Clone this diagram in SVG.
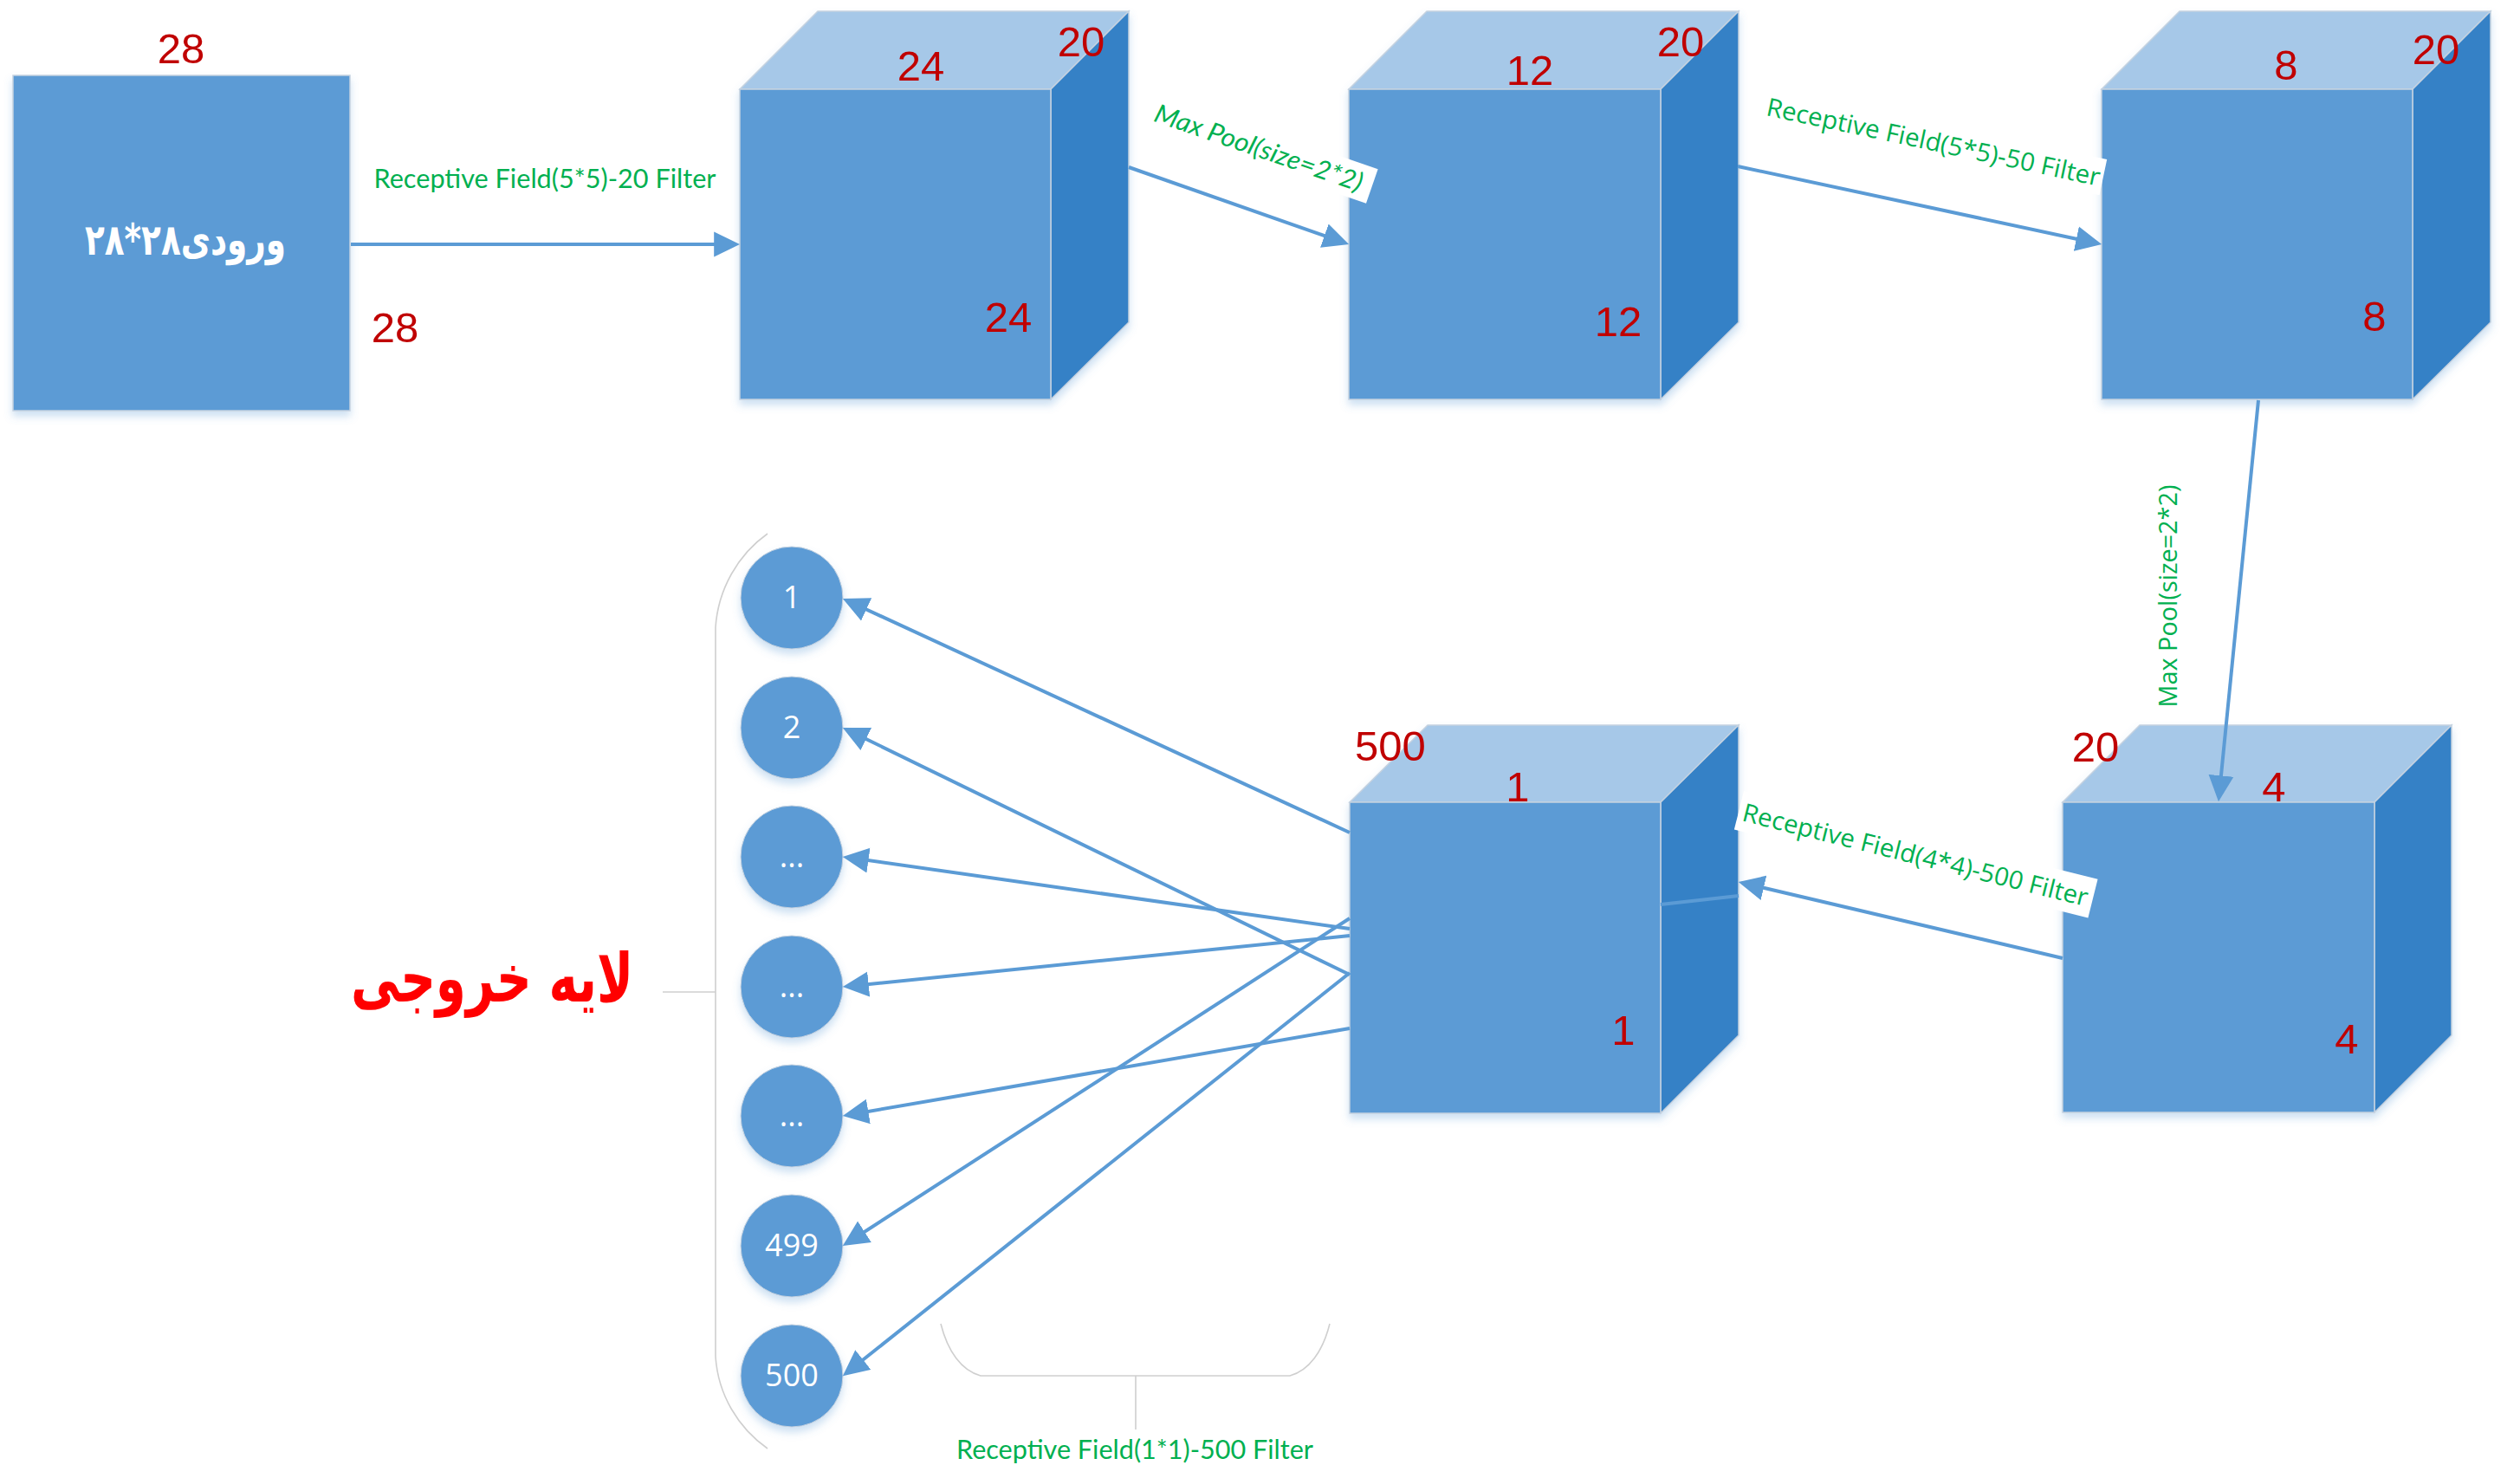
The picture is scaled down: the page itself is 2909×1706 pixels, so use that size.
<svg xmlns="http://www.w3.org/2000/svg" width="2909" height="1706" viewBox="0 0 2909 1706">
<defs>
<style>
.front{fill:#5B9BD5;stroke:#C5D2E0;stroke-width:1.5}
.top{fill:#A6C8E8;stroke:#C5D2E0;stroke-width:1.5}
.side{fill:#3581C6;stroke:#C5D2E0;stroke-width:1.5}
.dim{font-family:"Liberation Sans",Arial,sans-serif;font-size:49px;fill:#C00000;text-anchor:middle}
.edge{fill:none;stroke:#5B9BD5;stroke-width:4;marker-end:url(#ah)}
.plain{fill:none;stroke:#5B9BD5;stroke-width:4}
.lbl{font-family:"Open Sans","Noto Sans",sans-serif;font-size:29px;fill:#00B050;text-anchor:middle}
.lblc{font-family:Lato,"Liberation Sans",sans-serif;font-size:30px;fill:#00B050;text-anchor:middle}
.circ{fill:#5B9BD5;stroke:#C5D2E0;stroke-width:1}
.ctext{font-family:"Open Sans","Noto Sans",sans-serif;font-size:36px;fill:#FFFFFF;text-anchor:middle}
.brace{fill:none;stroke:#CFCFCF;stroke-width:1.6}
.bg{fill:#FFFFFF}
</style>
<marker id="ah" markerUnits="userSpaceOnUse" markerWidth="30" markerHeight="30" viewBox="0 0 29 28" refX="23" refY="14" orient="auto">
<path d="M0,0 L29,14 L0,28 Z" fill="#5B9BD5"/>
</marker>
<filter id="sh" x="-10%" y="-10%" width="125%" height="125%">
<feDropShadow dx="0" dy="6" stdDeviation="5" flood-color="#5B9BD5" flood-opacity="0.3"/>
</filter>
</defs>
<rect width="2909" height="1706" fill="#FFFFFF"/>

<g id="input">
<rect x="15" y="87" width="389" height="387" class="front" filter="url(#sh)"/>
<text x="214" y="294" font-family="'DejaVu Sans',sans-serif" font-weight="bold" font-size="50" fill="#FFFFFF" text-anchor="middle" textLength="232" lengthAdjust="spacingAndGlyphs">ورودی۲۸*۲۸</text>
<text class="dim" x="209" y="73">28</text>
<text class="dim" x="456" y="395">28</text>
</g>

<g id="cube1">
<g filter="url(#sh)">
<polygon class="top" points="854,103 944,13 1303,13 1213,103"/>
<polygon class="side" points="1213,103 1303,13 1303,372 1213,461"/>
<rect class="front" x="854" y="103" width="359" height="358"/>
</g>
<text class="dim" x="1063" y="93">24</text>
<text class="dim" x="1248" y="65">20</text>
<text class="dim" x="1164" y="383">24</text>
</g>

<g id="cube2">
<g filter="url(#sh)">
<polygon class="top" points="1557,103 1647,13 2007,13 1917,103"/>
<polygon class="side" points="1917,103 2007,13 2007,372 1917,461"/>
<rect class="front" x="1557" y="103" width="360" height="358"/>
</g>
<text class="dim" x="1766" y="98">12</text>
<text class="dim" x="1940" y="65">20</text>
<text class="dim" x="1868" y="388">12</text>
</g>

<g id="cube3">
<g filter="url(#sh)">
<polygon class="top" points="2426,103 2516,13 2875,13 2785,103"/>
<polygon class="side" points="2785,103 2875,13 2875,372 2785,461"/>
<rect class="front" x="2426" y="103" width="359" height="358"/>
</g>
<text class="dim" x="2639" y="92">8</text>
<text class="dim" x="2812" y="74">20</text>
<text class="dim" x="2741" y="382">8</text>
</g>

<g id="cube4">
<g filter="url(#sh)">
<polygon class="top" points="2381,926 2470,837 2830,837 2741,926"/>
<polygon class="side" points="2741,926 2830,837 2830,1195 2741,1284"/>
<rect class="front" x="2381" y="926" width="360" height="358"/>
</g>
<text class="dim" x="2419" y="879">20</text>
<text class="dim" x="2625" y="925">4</text>
<text class="dim" x="2709" y="1216">4</text>
</g>

<g id="cube5">
<g filter="url(#sh)">
<polygon class="top" points="1558,926 1648,837 2007,837 1917,926"/>
<polygon class="side" points="1917,926 2007,837 2007,1195 1917,1285"/>
<rect class="front" x="1558" y="926" width="359" height="359"/>
</g>
<text class="dim" x="1605" y="878">500</text>
<text class="dim" x="1752" y="925">1</text>
<text class="dim" x="1874" y="1206">1</text>
</g>

<g id="output-nodes">
<g id="n1"><circle class="circ" cx="914" cy="690" r="59" filter="url(#sh)"/><text class="ctext" x="914" y="702">1</text></g>
<g id="n2"><circle class="circ" cx="914" cy="840" r="59" filter="url(#sh)"/><text class="ctext" x="914" y="852">2</text></g>
<g id="n3"><circle class="circ" cx="914" cy="989" r="59" filter="url(#sh)"/><text class="ctext" x="914" y="1001">...</text></g>
<g id="n4"><circle class="circ" cx="914" cy="1139" r="59" filter="url(#sh)"/><text class="ctext" x="914" y="1151">...</text></g>
<g id="n5"><circle class="circ" cx="914" cy="1288" r="59" filter="url(#sh)"/><text class="ctext" x="914" y="1300">...</text></g>
<g id="n499"><circle class="circ" cx="914" cy="1438" r="59" filter="url(#sh)"/><text class="ctext" x="914" y="1450">499</text></g>
<g id="n500"><circle class="circ" cx="914" cy="1588" r="59" filter="url(#sh)"/><text class="ctext" x="914" y="1600">500</text></g>
</g>

<g id="output-brace">
<path class="brace" d="M886,616 C852,640 829,680 826,724 L826,1566 C829,1610 852,1648 886,1672"/>
<path class="brace" d="M765,1145 H826"/>
<text x="568" y="1156" font-family="'DejaVu Sans',sans-serif" font-weight="bold" font-size="78" fill="#FF0000" text-anchor="middle" textLength="326" lengthAdjust="spacingAndGlyphs">لایه خروجی</text>
</g>

<g id="filter-brace">
<path class="brace" d="M1086,1528 C1094,1560 1110,1582 1132,1588 H1489 C1511,1582 1527,1560 1535,1528"/>
<path class="brace" d="M1311,1588 V1650"/>
<text class="lblc" x="1310" y="1684" textLength="412" lengthAdjust="spacingAndGlyphs">Receptive Field(1*1)-500 Filter</text>
</g>

<g id="connectors">
<path class="edge" d="M405,282 L848,282"/>
<path class="edge" d="M1303,193 L1551.3,280"/>
<path class="edge" d="M2006,192 L2420.1,280.7"/>
<path class="edge" d="M2607,462 L2561.6,919"/>
<path class="edge" d="M2381,1106 L2012.8,1019.4"/>
<path class="plain" d="M1917,1044 L2007,1034"/>
<path class="edge" d="M1558,961 L978.5,693.5"/>
<path class="edge" d="M1558,1125 L978.4,842.6"/>
<path class="edge" d="M1558,1072 L978.9,989.8"/>
<path class="edge" d="M1558,1080 L979,1138.4"/>
<path class="edge" d="M1558,1187 L978.9,1287"/>
<path class="edge" d="M1558,1060 L978,1434.7"/>
<path class="edge" d="M1558,1123 L977.7,1584.3"/>
</g>

<g id="edge-labels">
<text class="lblc" x="629" y="217" textLength="395" lengthAdjust="spacingAndGlyphs">Receptive Field(5*5)-20 Filter</text>
<g transform="translate(1453,171) rotate(19)">
<rect class="bg" x="-132" y="-22" width="270" height="42"/>
<text class="lblc" x="0" y="10" font-style="italic" font-size="29" textLength="252" lengthAdjust="spacingAndGlyphs">Max Pool(size=2*2)</text>
</g>
<g transform="translate(2232,164) rotate(12)">
<rect class="bg" x="-200" y="-22" width="400" height="42"/>
<text class="lbl" x="0" y="10" textLength="393" lengthAdjust="spacingAndGlyphs">Receptive Field(5*5)-50 Filter</text>
</g>
<g transform="translate(2501,688) rotate(-90)">
<rect class="bg" x="-132" y="-24" width="264" height="48"/>
<text class="lbl" x="0" y="12" font-size="35" textLength="257" lengthAdjust="spacingAndGlyphs">Max Pool(size=2*2)</text>
</g>
<g transform="translate(2211,987) rotate(14)">
<rect class="bg" x="-210" y="-24" width="421" height="46"/>
<text class="lbl" x="0" y="10" textLength="410" lengthAdjust="spacingAndGlyphs">Receptive Field(4*4)-500 Filter</text>
</g>
</g>
</svg>
